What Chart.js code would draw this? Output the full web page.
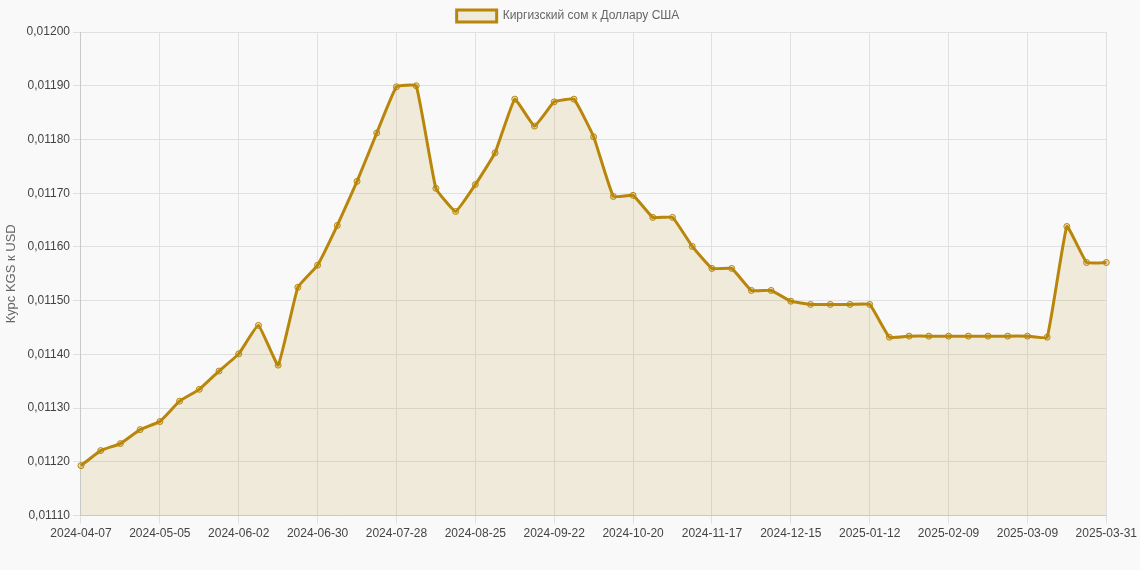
<!DOCTYPE html>
<html><head><meta charset="utf-8">
<script src="https://cdn.jsdelivr.net/npm/chart.js@4"></script>
<style>html,body{margin:0;background:#f9f9f9;}#w{width:1140px;height:570px;}</style>
</head><body><div id="w"><canvas id="c"></canvas></div>
<script>
const startDate = "2024-04-07";
const extraLabel = "2025-03-31";
const values = [0.011193,0.011221,0.011234,0.011260,0.011275,0.011313,0.011335,0.011369,0.011401,0.011454,
0.011380,0.011525,0.011566,0.011640,0.011722,0.011812,0.011898,0.011900,0.011709,0.011666,
0.011716,0.011775,0.011875,0.011825,0.011870,0.011875,0.011805,0.011694,0.011696,0.011655,
0.011655,0.011601,0.011560,0.011560,0.011519,0.011519,0.011499,0.011493,0.011493,0.011493,
0.011493,0.011432,0.011434,0.011434,0.011434,0.011434,0.011434,0.011434,0.011434,0.011432,
0.011638,0.011571,0.011571];
const labels = [];
{ const d = new Date(startDate+"T00:00:00Z");
  for (let i=0;i<values.length-1;i++){ const t=new Date(d.getTime()+i*7*864e5); labels.push(t.toISOString().slice(0,10)); }
  labels.push(extraLabel); }
Chart.defaults.font.family="'Liberation Sans', Arial, sans-serif";
Chart.defaults.font.size=12;
Chart.defaults.color="#666";
new Chart(document.getElementById('c'),{type:'line',
data:{labels,datasets:[{label:'Киргизский сом к Доллару США',data:values,borderColor:'#b8860b',
backgroundColor:'rgba(184,134,11,0.12)',fill:true,borderWidth:3,tension:0.1,pointRadius:3,
pointBackgroundColor:'rgba(184,134,11,0.25)',pointBorderColor:'#b8860b',pointBorderWidth:1}]},
options:{responsive:true,maintainAspectRatio:false,animation:false,
layout:{padding:{right:4,bottom:26}},
plugins:{legend:{labels:{boxWidth:40,boxHeight:12}}},
scales:{x:{grid:{color:c=>(c.index%4===0?'#e0e0e0':'rgba(0,0,0,0)')},ticks:{maxRotation:0,autoSkip:false,color:'#444',
  callback:function(v,i){return i%4===0?labels[i]:'';}}},
 y:{min:0.0111,max:0.012,grid:{color:'#e0e0e0'},ticks:{stepSize:0.0001,color:'#444',
  callback:v=>v.toFixed(5).replace('.',',')},
  title:{display:true,text:'Курс KGS к USD',font:{size:13}}}}}});
</script></body></html>
